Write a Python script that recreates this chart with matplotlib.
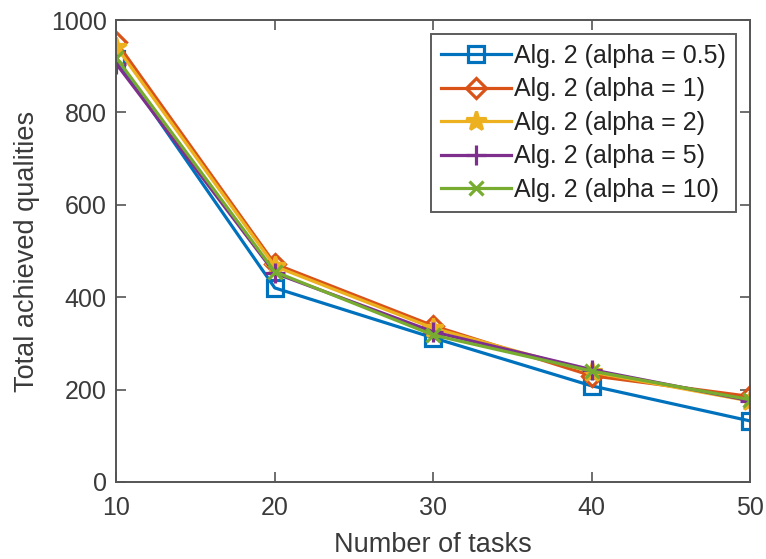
import matplotlib
matplotlib.use("Agg")
import matplotlib.pyplot as plt

tasks = [10, 20, 30, 40, 50]
alpha_05 = [915, 420, 312, 208, 132]
alpha_1 = [952, 472, 338, 230, 185]
alpha_2 = [942, 467, 333, 238, 175]
alpha_5 = [905, 452, 325, 243, 176]
alpha_10 = [918, 455, 318, 240, 178]
labels = ["Alg. 2 (alpha = 0.5)", "Alg. 2 (alpha = 1)", "Alg. 2 (alpha = 2)",
          "Alg. 2 (alpha = 5)", "Alg. 2 (alpha = 10)"]
xticks = [10, 20, 30, 40, 50]
yticks = [0, 200, 400, 600, 800, 1000]

plt.rcParams['font.family'] = ['Liberation Sans', 'DejaVu Sans']
txt = '#3a3a3a'

fig = plt.figure(figsize=(7.66, 5.59), dpi=100)
ax = fig.add_axes([0.152, 0.138, 0.827, 0.826])

series = [alpha_05, alpha_1, alpha_2, alpha_5, alpha_10]
colors = ['#0072BD', '#D95319', '#EDB120', '#7E2F8E', '#77AC30']
markers = ['s', 'D', '*', '+', 'x']
msizes = [11, 10, 15, 15, 10]
for s, c, m, ms, lab in zip(series, colors, markers, msizes, labels):
    mfc = 'none' if m in ('s', 'D') else c
    ax.plot(tasks, s, color=c, marker=m, markersize=ms, markerfacecolor=mfc,
            markeredgecolor=c, markeredgewidth=2.3, linewidth=2.3, label=lab)

ax.set_xlim(10, 50)
ax.set_ylim(0, 1000)
ax.set_xticks(xticks)
ax.set_yticks(yticks)
ax.tick_params(direction='in', length=7, width=1.2, colors='#555555',
               labelcolor=txt, labelsize=18, top=True, right=True)
ax.tick_params(axis='x', pad=10)
ax.tick_params(axis='y', pad=7)
for sp in ax.spines.values():
    sp.set_color('#555555')
    sp.set_linewidth(1.4)

ax.set_xlabel('Number of tasks', fontsize=19.5, color=txt, labelpad=9)
ax.set_ylabel('Total achieved qualities', fontsize=19.5, color=txt, labelpad=8)

leg = ax.legend(loc='upper right', fontsize=18, frameon=True, fancybox=False,
                edgecolor='#333333', handlelength=2.8, handletextpad=0.15,
                borderpad=0.4, labelspacing=0.38, borderaxespad=0.55)
leg.get_frame().set_linewidth(1.4)
for t in leg.get_texts():
    t.set_color('#222222')

fig.savefig('out.png', dpi=100)
